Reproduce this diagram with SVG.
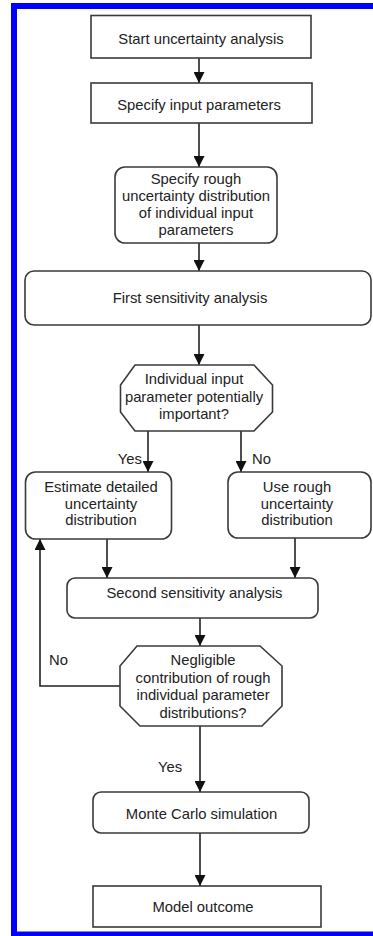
<svg xmlns="http://www.w3.org/2000/svg" width="373" height="936" viewBox="0 0 373 936">
<style>
.box{fill:#fff;stroke:#3a3a3a;stroke-width:1.6}
.t{font-family:"Liberation Sans",Arial,sans-serif;font-size:14.8px;fill:#222;text-anchor:middle}
.lbl{font-family:"Liberation Sans",Arial,sans-serif;font-size:14.8px;fill:#222}
.c{fill:none;stroke:#222;stroke-width:1.6}
</style>
<defs>
<marker id="ah" viewBox="0 0 10 10" refX="10" refY="5" markerWidth="11" markerHeight="11" markerUnits="userSpaceOnUse" orient="auto">
<path d="M0,0 L10,5 L0,10 z" fill="#111"/>
</marker>
</defs>
<rect width="373" height="936" fill="#fff"/>
<path d="M384,6 H14 V934.5 H384" fill="none" stroke="#0000ff" stroke-width="6"/>

<g id="connectors">
<path class="c" d="M199,58 V83" marker-end="url(#ah)"/>
<path class="c" d="M199,123 V167" marker-end="url(#ah)"/>
<path class="c" d="M199,243 V271" marker-end="url(#ah)"/>
<path class="c" d="M199,325 V365" marker-end="url(#ah)"/>
<path class="c" d="M148,431 V472" marker-end="url(#ah)"/>
<path class="c" d="M241,431 V472" marker-end="url(#ah)"/>
<path class="c" d="M107,539 V578" marker-end="url(#ah)"/>
<path class="c" d="M295,538 V578" marker-end="url(#ah)"/>
<path class="c" d="M200,618 V646" marker-end="url(#ah)"/>
<path class="c" d="M120,686 H40 V539" marker-end="url(#ah)"/>
<path class="c" d="M200,726 V792" marker-end="url(#ah)"/>
<path class="c" d="M200,833 V886" marker-end="url(#ah)"/>
<text class="lbl" x="142" y="464" text-anchor="end">Yes</text>
<text class="lbl" x="252" y="464">No</text>
<text class="lbl" x="49" y="665">No</text>
<text class="lbl" x="158" y="772">Yes</text>
</g>

<g id="start">
<rect class="box" x="91" y="15.5" width="220" height="42.5"/>
<text class="t" x="201" y="44">Start uncertainty analysis</text>
</g>
<g id="specify-input">
<rect class="box" x="91" y="83" width="221" height="40"/>
<text class="t" x="199" y="110">Specify input parameters</text>
</g>
<g id="specify-rough">
<rect class="box" x="115" y="167" width="162" height="76" rx="10"/>
<text class="t" x="196" y="183.5">Specify rough</text>
<text class="t" x="196" y="200.8">uncertainty distribution</text>
<text class="t" x="196" y="218">of individual input</text>
<text class="t" x="196" y="235.3">parameters</text>
</g>
<g id="first-sensitivity">
<rect class="box" x="25" y="271" width="346" height="54" rx="9"/>
<text class="t" x="190" y="303">First sensitivity analysis</text>
</g>
<g id="decision-important">
<polygon class="box" points="135,365 254,365 272.5,385 272.5,412 254,431 135,431 120.5,412 120.5,385"/>
<text class="t" x="194" y="384">Individual input</text>
<text class="t" x="194" y="401.5">parameter potentially</text>
<text class="t" x="194" y="418.5">important?</text>
</g>
<g id="estimate-detailed">
<rect class="box" x="25.5" y="472" width="146" height="67" rx="10"/>
<text class="t" x="101" y="492">Estimate detailed</text>
<text class="t" x="101" y="508.5">uncertainty</text>
<text class="t" x="101" y="525">distribution</text>
</g>
<g id="use-rough">
<rect class="box" x="228" y="472" width="143" height="66" rx="10"/>
<text class="t" x="297" y="492">Use rough</text>
<text class="t" x="297" y="508.5">uncertainty</text>
<text class="t" x="297" y="525">distribution</text>
</g>
<g id="second-sensitivity">
<rect class="box" x="67" y="578" width="251" height="40" rx="8"/>
<text class="t" x="194.5" y="598">Second sensitivity analysis</text>
</g>
<g id="decision-negligible">
<polygon class="box" points="137,646 260,646 282,666 282,706 262,726 140,726 120,706 120,666"/>
<text class="t" x="203" y="665">Negligible</text>
<text class="t" x="203" y="682.5">contribution of rough</text>
<text class="t" x="203" y="700">individual parameter</text>
<text class="t" x="203" y="717.5">distributions?</text>
</g>
<g id="monte-carlo">
<rect class="box" x="93" y="792" width="216" height="41" rx="8"/>
<text class="t" x="201.5" y="819">Monte Carlo simulation</text>
</g>
<g id="model-outcome">
<rect class="box" x="93" y="886" width="228" height="41"/>
<text class="t" x="203" y="912">Model outcome</text>
</g>
</svg>
